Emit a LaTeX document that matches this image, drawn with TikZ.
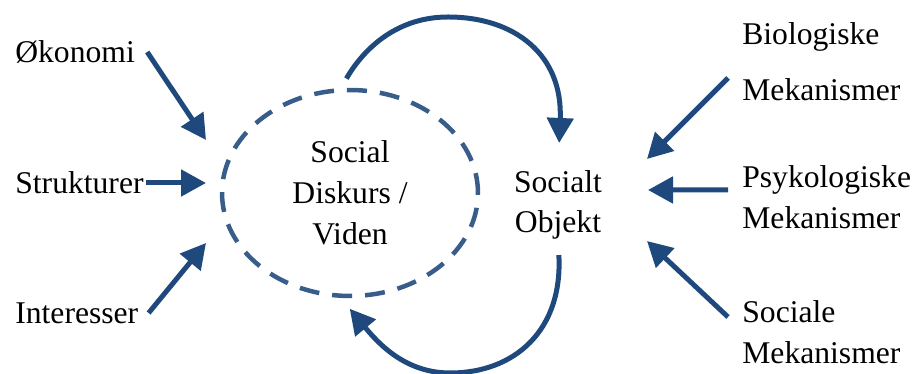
\documentclass[tikz,border=0pt]{standalone}
\usepackage{fontspec}
\setmainfont{Liberation Serif}
\usetikzlibrary{arrows.meta,shapes.geometric}

\definecolor{arrowblue}{RGB}{31,73,125}
\definecolor{dashblue}{RGB}{56,93,138}

\tikzset{
  arr/.style={draw=arrowblue, line width=0.1cm, -{Triangle[length=0.5cm,width=0.52cm]}},
  lbl/.style={inner sep=0pt, font=\fontsize{18}{23.2}\selectfont},
}

\begin{document}
\begin{tikzpicture}[x=0.02cm,y=-0.02cm]
\useasboundingbox (0,0) rectangle (913,374);
% middle
\node[lbl, ellipse, draw=dashblue, line width=0.09cm, dash pattern=on 0.4cm off 0.26cm,
  minimum width=5.12cm, minimum height=4.12cm, align=center] (disk) at (350,193) {Social\\Diskurs /\\Viden};
\node[lbl, align=center] (obj) at (558,205) {Socialt\\Objekt};
% left side
\node[lbl, anchor=west] (oek) at (15,52) {Økonomi};
\node[lbl, anchor=west] (struk) at (15,183) {Strukturer};
\node[lbl, anchor=west] (inter) at (15,313) {Interesser};
% right side
\node[lbl, anchor=west, align=left] (bio) at (742,62) {Biologiske\\[0.3cm]Mekanismer};
\node[lbl, anchor=west, align=left] (psy) at (742,197) {Psykologiske\\Mekanismer};
\node[lbl, anchor=west, align=left] (soc) at (742,332) {Sociale\\Mekanismer};
% arrow tips
\coordinate (tipO) at (206,140);
\coordinate (tipS) at (206,183);
\coordinate (tipI) at (206,243);
\coordinate (tipB) at (647,159);
\coordinate (tipP) at (648,190);
\coordinate (tipC) at (647,241);
% arrows
\draw[arr] ([xshift=0.24cm]oek.east) -- (tipO);
\draw[arr] ([xshift=0.04cm]struk.east) -- (tipS);
\draw[arr] ([xshift=0.2cm]inter.east) -- (tipI);
\draw[arr] ([xshift=-0.28cm,yshift=-0.32cm]bio.west) -- (tipB);
\draw[arr] ([xshift=-0.28cm,yshift=0.14cm]psy.west) -- (tipP);
\draw[arr] ([xshift=-0.28cm,yshift=0.3cm]soc.west) -- (tipC);
% loop
\draw[arr, shorten <=0.22cm, shorten >=0.54cm] (disk.95) .. controls (366,45) and (400,17) .. (448,17)
  .. controls (515,17) and (563,55) .. (obj.north);
\draw[arr, shorten <=0.3cm, shorten >=0.28cm] (obj.south) .. controls (563,330) and (515,373) .. (450,373)
  .. controls (405,373) and (378,343) .. (disk.265);
\end{tikzpicture}
\end{document}
